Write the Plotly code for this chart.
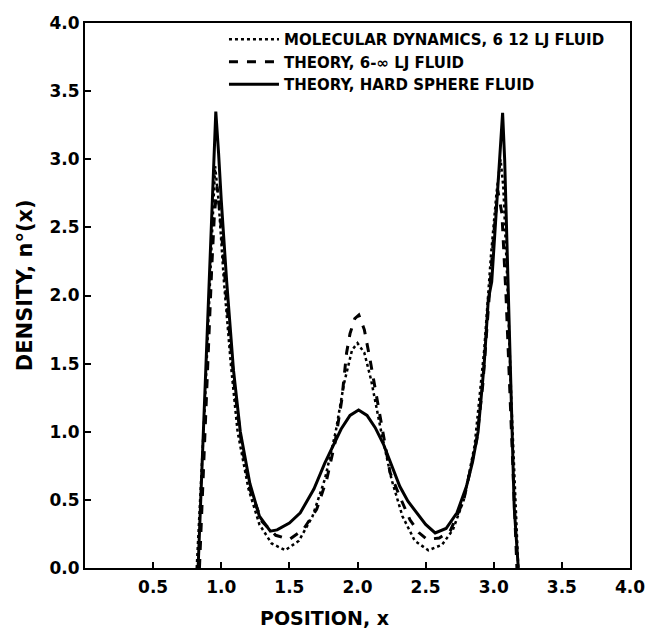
import plotly.graph_objects as go

# hard sphere fluid theory (solid)
x_hs = [0.83, 0.87, 0.91, 0.935, 0.96, 0.98, 1.00, 1.04, 1.09, 1.14, 1.21, 1.28, 1.36, 1.41,
        1.50, 1.58, 1.68, 1.76, 1.82, 1.88, 1.945, 2.008, 2.07, 2.13, 2.19, 2.25, 2.31, 2.37,
        2.435, 2.50, 2.57, 2.65, 2.73, 2.80, 2.845, 2.885, 2.93, 2.96, 2.985, 3.025, 3.065,
        3.08, 3.10, 3.12, 3.135, 3.15, 3.18]
y_hs = [0.0, 1.05, 2.1, 2.75, 3.35, 3.05, 2.7, 2.1, 1.45, 1.0, 0.62, 0.38, 0.27, 0.28,
        0.33, 0.405, 0.58, 0.77, 0.9, 1.02, 1.12, 1.16, 1.12, 1.03, 0.91, 0.76, 0.6, 0.49,
        0.405, 0.32, 0.257, 0.29, 0.405, 0.6, 0.78, 1.0, 1.5, 1.97, 2.1, 2.7, 3.34,
        3.0, 2.3, 1.5, 0.9, 0.45, 0.0]

# 6-infinity LJ fluid theory (dashed)
x_lj = [0.84, 0.87, 0.90, 0.93, 0.95, 0.97, 1.00, 1.04, 1.10, 1.15, 1.21, 1.30, 1.40, 1.50,
        1.60, 1.70, 1.774, 1.835, 1.884, 1.92, 1.945, 1.98, 2.01, 2.05, 2.092, 2.165, 2.239,
        2.31, 2.385, 2.45, 2.51, 2.60, 2.68, 2.78, 2.875, 2.92, 2.96, 3.00, 3.03, 3.06,
        3.09, 3.12, 3.15, 3.17]
y_lj = [0.0, 0.75, 1.5, 2.2, 2.6, 2.8, 2.5, 1.95, 1.3, 0.9, 0.58, 0.34, 0.24, 0.21,
        0.28, 0.43, 0.65, 0.92, 1.23, 1.58, 1.72, 1.83, 1.857, 1.75, 1.53, 1.11, 0.70,
        0.525, 0.354, 0.26, 0.21, 0.22, 0.27, 0.5, 0.94, 1.35, 1.9, 2.45, 2.77, 2.6,
        2.0, 1.2, 0.5, 0.0]

# molecular dynamics, 6-12 LJ fluid (dotted)
x_md = [0.82, 0.88, 0.93, 0.955, 0.98, 1.02, 1.07, 1.12, 1.20, 1.28, 1.37, 1.47, 1.57,
        1.67, 1.76, 1.84, 1.90, 1.96, 2.00, 2.05, 2.10, 2.17, 2.25, 2.33, 2.42, 2.52, 2.62,
        2.70, 2.78, 2.86, 2.93, 2.98, 3.02, 3.05, 3.07, 3.10, 3.13, 3.16, 3.18]
y_md = [0.0, 1.2, 2.4, 2.95, 2.7, 2.1, 1.5, 1.0, 0.58, 0.32, 0.18, 0.13, 0.2,
        0.38, 0.65, 1.0, 1.35, 1.6, 1.65, 1.58, 1.38, 1.02, 0.65, 0.38, 0.2, 0.13, 0.17,
        0.28, 0.5, 0.9, 1.6, 2.3, 2.75, 3.0, 2.8, 2.1, 1.2, 0.5, 0.0]

x_ticks = [0.5, 1.0, 1.5, 2.0, 2.5, 3.0, 3.5, 4.0]
y_ticks = [0.0, 0.5, 1.0, 1.5, 2.0, 2.5, 3.0, 3.5, 4.0]

FONT = 'DejaVu Sans'

fig = go.Figure()
fig.add_trace(go.Scatter(x=x_md, y=y_md, mode='lines', name='MOLECULAR DYNAMICS, 6 12 LJ FLUID',
                         line=dict(color='black', width=2.5, dash='dot')))
fig.add_trace(go.Scatter(x=x_lj, y=y_lj, mode='lines', name='THEORY, 6-\u221e LJ FLUID',
                         line=dict(color='black', width=3, dash='dash')))
fig.add_trace(go.Scatter(x=x_hs, y=y_hs, mode='lines', name='THEORY, HARD SPHERE FLUID',
                         line=dict(color='black', width=3)))

# page has an 8px body margin, so the figure is 8px smaller than the window
fig.update_layout(
    width=655, height=630,
    margin=dict(l=77, r=33, t=15, b=70),
    paper_bgcolor='white', plot_bgcolor='white',
    font=dict(family=FONT, color='black', size=17, weight='bold'),
    legend=dict(x=0.255, y=1.0, xanchor='left', yanchor='top', bgcolor='rgba(0,0,0,0)',
                font=dict(family=FONT, size=15, weight='bold'), tracegroupgap=0, itemwidth=50),
    annotations=[
        dict(text='POSITION, x', xref='paper', yref='paper', x=0.44, y=-0.092,
             xanchor='center', yanchor='middle', showarrow=False,
             font=dict(family=FONT, size=19, weight='bold')),
        dict(text='DENSITY, n\u00b0(x)', xref='paper', yref='paper', x=-0.11, y=0.519,
             xanchor='center', yanchor='middle', textangle=-90, showarrow=False,
             font=dict(family=FONT, size=21, weight='bold')),
    ],
)
fig.update_xaxes(range=[0, 4], tickvals=x_ticks, ticktext=['%.1f' % v for v in x_ticks],
                 showline=True, linewidth=2, linecolor='black', mirror=True,
                 ticks='inside', ticklen=6, tickwidth=2, tickcolor='black',
                 showgrid=False, zeroline=False, ticklabelstandoff=3, automargin=False)
fig.update_yaxes(range=[0, 4], tickvals=y_ticks, ticktext=['%.1f' % v for v in y_ticks],
                 showline=True, linewidth=2, linecolor='black', mirror=True,
                 ticks='inside', ticklen=6, tickwidth=2, tickcolor='black',
                 showgrid=False, zeroline=False, automargin=False)

fig.write_html("out.html")
